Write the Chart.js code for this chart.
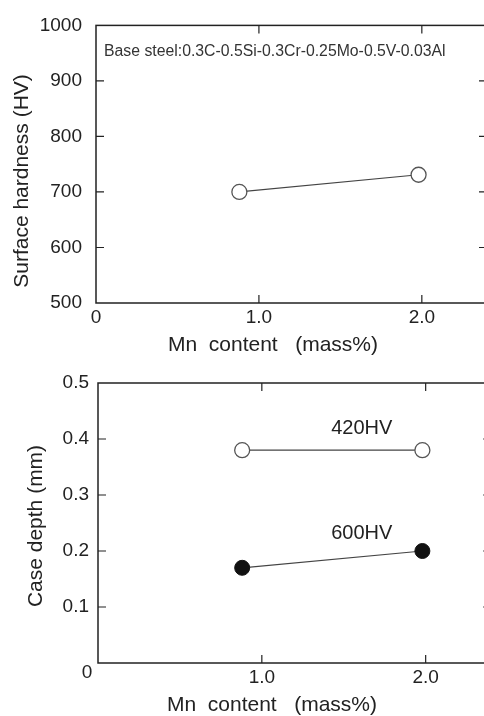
<!DOCTYPE html>
<html><head><meta charset="utf-8">
<script src="https://cdn.jsdelivr.net/npm/chart.js@4/dist/chart.umd.min.js"></script>
<style>
html,body{margin:0;padding:0;background:#fff;overflow:hidden;width:484px;height:716px;}
.wrap{position:absolute;left:0;width:500px;height:358px;}
#w1{top:0}#w2{top:358px}
canvas{display:block}
</style></head><body>
<div class="wrap" id="w1"><canvas id="c1" width="500" height="358"></canvas></div>
<div class="wrap" id="w2"><canvas id="c2" width="500" height="358"></canvas></div>
<script>
// ---- data ----
const mnContent = [0.88, 1.98];
const surfaceHardness = [700, 731];
const mnContentDepth = [0.88, 1.98];
const depth420HV = [0.38, 0.38];
const depth600HV = [0.17, 0.20];
const mnTicks = [0, 1.0, 2.0];
const hardnessTicks = [500, 600, 700, 800, 900, 1000];
const depthTicks = [0, 0.1, 0.2, 0.3, 0.4, 0.5];

Chart.defaults.font.family = '"Liberation Sans", Arial, Helvetica, sans-serif';
Chart.defaults.color = '#222';

const framePlugin = {
  id: 'frame',
  beforeDatasetsDraw(chart) {
    const {ctx, chartArea: a, scales} = chart;
    ctx.save();
    ctx.strokeStyle = '#222';
    ctx.lineWidth = 1.5;
    ctx.strokeRect(a.left, a.top, a.right - a.left, a.bottom - a.top);
    ctx.lineWidth = 1.2;
    const tl = 8;
    ctx.beginPath();
    scales.x.ticks.forEach(t => {
      const p = scales.x.getPixelForValue(t.value);
      if (p <= a.left + 1 || p >= a.right - 1) return;
      ctx.moveTo(p, a.bottom); ctx.lineTo(p, a.bottom - tl);
      ctx.moveTo(p, a.top); ctx.lineTo(p, a.top + tl);
    });
    scales.y.ticks.forEach(t => {
      const p = scales.y.getPixelForValue(t.value);
      if (p <= a.top + 1 || p >= a.bottom - 1) return;
      ctx.moveTo(a.left, p); ctx.lineTo(a.left + tl, p);
      ctx.moveTo(a.right, p); ctx.lineTo(a.right - tl, p);
    });
    ctx.stroke();
    ctx.restore();
  },
  afterDraw(chart, args, opts) {
    const {ctx, scales} = chart;
    (opts.texts || []).forEach(t => {
      let x = t.x, y = t.y;
      if (t.data) { x = scales.x.getPixelForValue(t.x); y = scales.y.getPixelForValue(t.y); }
      ctx.save();
      ctx.fillStyle = t.color || '#222';
      ctx.font = (t.size || 20) + 'px "Liberation Sans", Arial, sans-serif';
      ctx.textAlign = t.align || 'center';
      ctx.textBaseline = 'middle';
      ctx.translate(x, y);
      if (t.rot) ctx.rotate(t.rot);
      ctx.fillText(t.text, 0, 0);
      ctx.restore();
    });
  }
};

function baseOptions(o) {
  return {
    responsive: false, animation: false, events: [],
    layout: {padding: {left: 0, top: o.top, right: o.right, bottom: 0}},
    plugins: {legend: {display: false}, tooltip: {enabled: false}, frame: {texts: o.texts}},
    scales: {
      x: {
        type: 'linear', min: 0, max: 2.4,
        afterBuildTicks: s => { s.ticks = mnTicks.map(v => ({value: v})); },
        afterFit: s => { s.height = o.xh; },
        grid: {display: false, drawTicks: false}, border: {display: false},
        ticks: {padding: 3, font: {size: 19}, color: '#222', maxRotation: 0,
          callback: v => o.hideX0 && v === 0 ? '' : (v === 0 ? '0' : v.toFixed(1))}
      },
      y: {
        type: 'linear', min: o.ymin, max: o.ymax,
        afterBuildTicks: s => { s.ticks = o.yt.map(v => ({value: v})); },
        afterFit: s => { s.width = o.left; },
        grid: {display: false, drawTicks: false}, border: {display: false},
        ticks: {padding: o.ypad, font: {size: 19}, color: '#222',
          callback: o.ycb}
      }
    }
  };
}

new Chart(document.getElementById('c1'), {
  type: 'scatter',
  data: {datasets: [{
    data: mnContent.map((x, i) => ({x, y: surfaceHardness[i]})),
    showLine: true, borderColor: '#444', borderWidth: 1.2,
    pointRadius: 7.5, pointBackgroundColor: '#fff', pointBorderColor: '#555', pointBorderWidth: 1.3
  }]},
  options: baseOptions({
    top: 21, right: 13, xh: 55, left: 96, ymin: 500, ymax: 1000, yt: hardnessTicks, ypad: 14,
    ycb: v => String(v),
    texts: [
      {text: 'Base steel:0.3C-0.5Si-0.3Cr-0.25Mo-0.5V-0.03Al', x: 104, y: 52, size: 15.8, align: 'left', color: '#333'},
      {text: 'Mn  content   (mass%)', x: 273, y: 345, size: 21},
      {text: 'Surface hardness (HV)', x: 22, y: 181, size: 21, rot: -Math.PI / 2}
    ]
  }),
  plugins: [framePlugin]
});

new Chart(document.getElementById('c2'), {
  type: 'scatter',
  data: {datasets: [
    {data: mnContentDepth.map((x, i) => ({x, y: depth420HV[i]})),
     showLine: true, borderColor: '#444', borderWidth: 1.2,
     pointRadius: 7.5, pointBackgroundColor: '#fff', pointBorderColor: '#555', pointBorderWidth: 1.3},
    {data: mnContentDepth.map((x, i) => ({x, y: depth600HV[i]})),
     showLine: true, borderColor: '#444', borderWidth: 1.2,
     pointRadius: 7.5, pointBackgroundColor: '#111', pointBorderColor: '#111', pointBorderWidth: 1}
  ]},
  options: baseOptions({
    top: 25, right: 8, xh: 53, left: 98, ymin: 0, ymax: 0.5, yt: depthTicks, hideX0: true, ypad: 9,
    ycb: v => v === 0 ? '' : v.toFixed(1),
    texts: [
      {text: '420HV', x: 1.61, y: 0.418, data: true, size: 20},
      {text: '600HV', x: 1.61, y: 0.232, data: true, size: 20},
      {text: '0', x: 87, y: 315, size: 19},
      {text: 'Mn  content   (mass%)', x: 272, y: 347, size: 21},
      {text: 'Case depth (mm)', x: 36, y: 168, size: 21, rot: -Math.PI / 2}
    ]
  }),
  plugins: [framePlugin]
});
</script>
</body></html>
